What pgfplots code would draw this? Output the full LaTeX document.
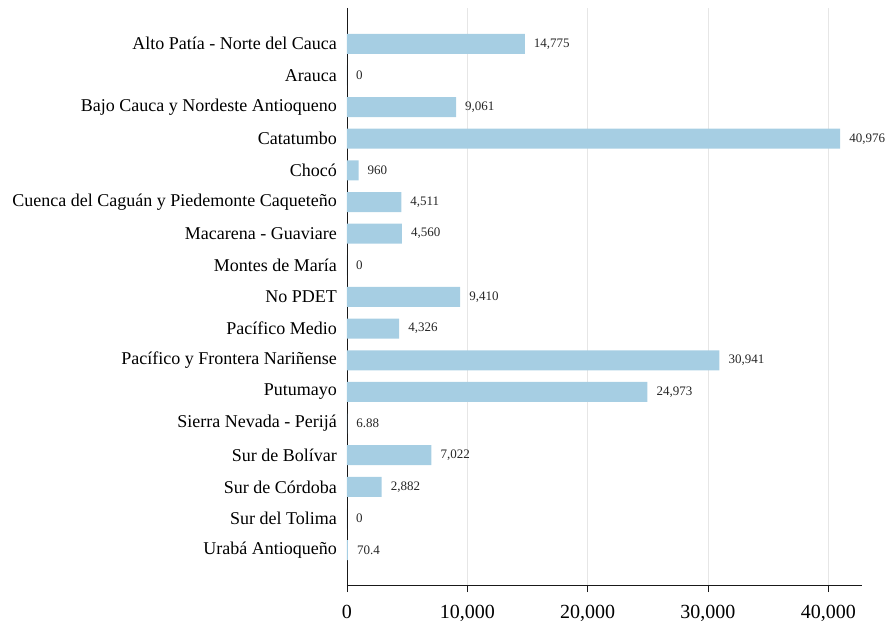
\documentclass[border=0pt]{standalone}
\usepackage{fontspec}
\setmainfont{Liberation Serif}
\usepackage{pgfplots}
\usepackage{pgfplotstable}
\pgfplotsset{compat=1.18}
\definecolor{barblue}{HTML}{A6CEE3}
\definecolor{gridgray}{HTML}{E6E6E6}

\pgfplotstableread{
idx value lbl
0 14775 14,775
1 0 0
2 9061 9,061
3 40976 40,976
4 960 960
5 4511 4,511
6 4560 4,560
7 0 0
8 9410 9,410
9 4326 4,326
10 30941 30,941
11 24973 24,973
12 6.88 6.88
13 7022 7,022
14 2882 2,882
15 0 0
16 70.4 70.4
}\pdetdata

\begin{document}
\begin{tikzpicture}
\path[use as bounding box] (-347pt,-41pt) rectangle (539pt,585pt);
\begin{axis}[
    at={(0pt,0pt)}, anchor=south west,
    scale only axis,
    width=515pt, height=577pt,
    xbar, bar width=20pt,
    xmin=0, xmax=42800,
    ymin=-1.13, ymax=17.1,
    y dir=reverse,
    axis x line*=bottom, axis y line*=left,
    axis line style={black!90, line width=0.9pt},
    xtick={0,10000,20000,30000,40000},
    xtick align=outside, major tick length=7pt,
    x tick style={black!90, line width=0.9pt},
    xmajorgrids, grid style={gridgray, line width=0.9pt},
    scaled x ticks=false,
    /pgf/number format/.cd, 1000 sep={,}, assume math mode=true, /pgfplots/.cd,
    xticklabel style={font=\fontsize{20}{22}\selectfont, inner sep=0pt, yshift=-13pt},
    ytick={0,...,16}, y tick style={draw=none},
    yticklabels={Alto Patía - Norte del Cauca, Arauca, Bajo Cauca y Nordeste Antioqueno, Catatumbo, Chocó, Cuenca del Caguán y Piedemonte Caqueteño, Macarena - Guaviare, Montes de María, No PDET, Pacífico Medio, Pacífico y Frontera Nariñense, Putumayo, Sierra Nevada - Perijá, Sur de Bolívar, Sur de Córdoba, Sur del Tolima, Urabá Antioqueño},
    yticklabel style={font=\fontsize{18}{20}\selectfont, inner sep=0pt, xshift=-3pt},
    point meta=explicit symbolic,
    nodes near coords={\pgfplotspointmeta},
    nodes near coords style={font=\fontsize{13}{15}\selectfont, anchor=west, inner sep=0pt, xshift=9pt, text=black!85},
]
\addplot[fill=barblue, draw=none] table[x=value, y=idx, meta=lbl] {\pdetdata};
\end{axis}
\end{tikzpicture}
\end{document}
